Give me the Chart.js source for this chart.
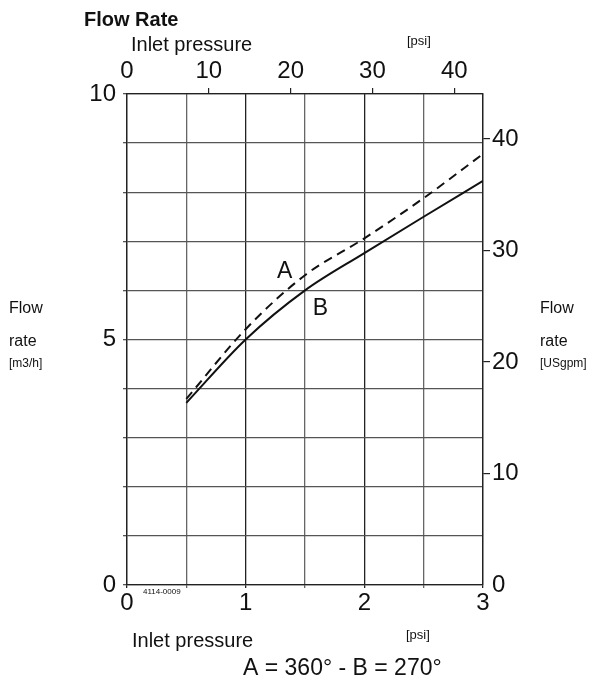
<!DOCTYPE html>
<html><head><meta charset="utf-8">
<script src="https://cdn.jsdelivr.net/npm/chart.js@4/dist/chart.umd.min.js"></script>
<style>html,body{margin:0;padding:0;background:#fff}#wrap{width:602px;height:683px}</style>
</head><body><div id="wrap"><canvas id="c" width="602" height="683"></canvas></div>
<script>
// Data
const pressureBar = [0.5, 1.0, 1.5, 2.0, 2.5, 3.0];
const flowA = [3.79, 5.21, 6.31, 7.06, 7.88, 8.78];   // A = 360°
const flowB = [3.71, 5.00, 6.00, 6.76, 7.50, 8.23];   // B = 270°
const barTicks = [0, 1, 2, 3];
const psiTicks = [0, 10, 20, 30, 40];
const m3hTicks = [0, 5, 10];
const gpmTicks = [0, 10, 20, 30, 40];
const PSI_PER_BAR = 14.5038;
const GPM_PER_M3H = 4.40287;

const FONT = "'Liberation Sans', Arial, sans-serif";
const INK = '#111';
const TICK_FONT = { family: FONT, size: 24 };

const textPlugin = {
  id: 'texts',
  afterDraw(chart) {
    const ctx = chart.ctx;
    const x = chart.scales.x, y = chart.scales.y;
    ctx.save();
    ctx.fillStyle = INK;
    ctx.textAlign = 'left';
    ctx.textBaseline = 'alphabetic';
    const t = (s, px, py, size, bold) => {
      ctx.font = (bold ? 'bold ' : '') + size + 'px ' + FONT;
      ctx.fillText(s, px, py);
    };
    t('Flow Rate', 84, 26, 20, true);
    t('Inlet pressure', 131, 51, 20);
    t('[psi]', 407, 45, 13);
    t('Inlet pressure', 132, 647, 20);
    t('[psi]', 406, 639, 13);
    t('A = 360° - B = 270°', 243, 675, 23);
    t('Flow', 9, 313, 16);
    t('rate', 9, 346, 16);
    t('[m3/h]', 9, 367, 12);
    t('Flow', 540, 313, 16);
    t('rate', 540, 346, 16);
    t('[USgpm]', 540, 367, 12);
    t('4114-0009', 143, 594, 8);
    // curve labels
    t('A', x.getPixelForValue(1.265), y.getPixelForValue(6.25), 23);
    t('B', x.getPixelForValue(1.565), y.getPixelForValue(5.5), 23);
    ctx.restore();
  }
};

new Chart(document.getElementById('c'), {
  type: 'line',
  data: {
    datasets: [
      {
        label: 'A',
        data: pressureBar.map((p, i) => ({ x: p, y: flowA[i] })),
        borderColor: INK, borderWidth: 2, borderDash: [9, 6],
        pointRadius: 0, cubicInterpolationMode: 'monotone', fill: false
      },
      {
        label: 'B',
        data: pressureBar.map((p, i) => ({ x: p, y: flowB[i] })),
        borderColor: INK, borderWidth: 2,
        pointRadius: 0, cubicInterpolationMode: 'monotone', fill: false
      }
    ]
  },
  options: {
    responsive: false,
    devicePixelRatio: 1,
    animation: false,
    layout: { padding: 0 },
    plugins: { legend: { display: false }, tooltip: { enabled: false }, title: { display: false } },
    scales: {
      x: {
        type: 'linear', position: 'bottom', min: 0, max: 3,
        afterBuildTicks: s => { const a = []; for (let v = 0; v <= 3.001; v += 0.5) a.push({ value: Math.round(v * 2) / 2 }); s.ticks = a; },
        ticks: {
          autoSkip: false, maxRotation: 0, padding: 1, color: INK,
          font: TICK_FONT,
          callback: v => barTicks.includes(v) ? String(v) : ''
        },
        grid: {
          color: c => (c.tick && Number.isInteger(c.tick.value)) ? '#222' : '#666',
          lineWidth: 1.3, tickLength: 3
        },
        border: { display: true, color: '#222', width: 1.3 },
        afterFit: s => { s.height = 98; }
      },
      x2: {
        type: 'linear', position: 'top', min: 0, max: 3 * PSI_PER_BAR,
        afterBuildTicks: s => { s.ticks = psiTicks.map(v => ({ value: v })); },
        ticks: {
          autoSkip: false, maxRotation: 0, padding: 2, color: INK, includeBounds: false,
          font: TICK_FONT
        },
        grid: {
          drawOnChartArea: false, tickLength: 6,
          color: c => (c.tick && c.tick.value === 0) ? 'rgba(0,0,0,0)' : '#222', lineWidth: 1.2
        },
        border: { display: true, color: '#222', width: 1.3 },
        afterFit: s => { s.height = 94; }
      },
      y: {
        type: 'linear', position: 'left', min: 0, max: 10,
        afterBuildTicks: s => { const a = []; for (let v = 0; v <= 10; v++) a.push({ value: v }); s.ticks = a; },
        ticks: {
          autoSkip: false, padding: 7, color: INK,
          font: TICK_FONT,
          callback: v => m3hTicks.includes(v) ? String(v) : ''
        },
        grid: { color: '#555', lineWidth: 1.3, tickLength: 4 },
        border: { display: true, color: '#222', width: 1.3 },
        afterFit: s => { s.width = 127; }
      },
      y2: {
        type: 'linear', position: 'right', min: 0, max: 10 * GPM_PER_M3H,
        afterBuildTicks: s => { s.ticks = gpmTicks.map(v => ({ value: v })); },
        ticks: {
          autoSkip: false, padding: 2, color: INK, includeBounds: false,
          font: TICK_FONT
        },
        grid: {
          drawOnChartArea: false, tickLength: 7,
          color: c => (c.tick && c.tick.value === 0) ? 'rgba(0,0,0,0)' : '#222', lineWidth: 1.2
        },
        border: { display: true, color: '#222', width: 1.3 },
        afterFit: s => { s.width = 119; }
      }
    }
  },
  plugins: [textPlugin]
});
</script>
</body></html>
